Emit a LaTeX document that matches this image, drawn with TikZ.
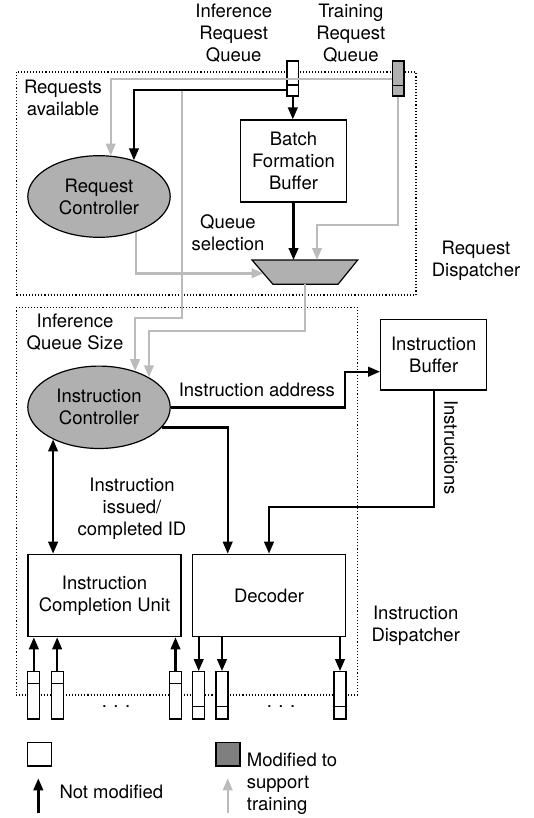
\documentclass[tikz,border=0pt]{standalone}
\usepackage{fontspec}
\setmainfont{TeX Gyre Heros}
\usetikzlibrary{arrows.meta,shapes.geometric}
\definecolor{lgray}{HTML}{BBBBBB}
\definecolor{fgray}{HTML}{B0B0B0}
\definecolor{dgray}{HTML}{7F7F7F}
\begin{document}
\begin{tikzpicture}[x=1pt,y=-1pt, font=\fontsize{18.5}{22}\selectfont,
  box/.style={draw, line width=1.2pt, fill=white, inner sep=0pt, align=center},
  ell/.style={ellipse, draw, line width=1.2pt, fill=fgray, inner sep=0pt, minimum width=142.4pt, align=center},
  qbox/.style={draw, line width=1.2pt, fill=white, minimum width=11.5pt, minimum height=35pt, inner sep=0pt},
  blk/.style={line width=2.4pt, -{Triangle[length=12pt,width=9.5pt]}},
  gry/.style={line width=2.4pt, lgray, -{Triangle[length=12pt,width=9.5pt]}},
  lbl/.style={align=center, inner sep=0pt},
  region/.style={dotted, line width=1.1pt},
  divline/.style={line width=1.2pt}]
\useasboundingbox (0,0) rectangle (534,818);

% regions
\draw[region] (16.3,72) rectangle (416,295);
\draw[region] (16.3,307.3) rectangle (357.3,695);

% labels
\node[lbl] (lInf) at (233.7,33) {Inference\\Request\\Queue};
\node[lbl] (lTrn) at (350.8,33) {Training\\Request\\Queue};
\node[lbl] (lReqAv) at (63,97.5) {Requests\\available};
\node[lbl] (lQsel) at (228,232.8) {Queue\\selection};
\node[lbl] (lRD) at (476,260.8) {Request\\Dispatcher};
\node[lbl] (lIQS) at (75,332) {Inference\\Queue Size};
\node[lbl] (lIA) at (256.8,390) {Instruction address};
\node[lbl, rotate=-90] (lIns) at (451,447.5) {Instructions};
\node[lbl] (lIssued) at (132,509) {Instruction\\issued/\\completed ID};
\node[lbl] (lID) at (415.7,625.3) {Instruction\\Dispatcher};

% main nodes
\node[box, minimum width=105.8pt, minimum height=82pt] (BFB) at (293.5,161) {Batch\\Formation\\Buffer};
\node[ell, minimum height=81.6pt] (RC) at (99,196.5) {Request\\Controller};
\node[ell, minimum height=82.4pt] (IC) at (99,407.3) {Instruction\\Controller};
\node[box, minimum width=106pt, minimum height=70.7pt] (IB) at (433.7,354.65) {Instruction\\Buffer};
\node[box, minimum width=153pt, minimum height=82.4pt] (ICU) at (104.5,595.5) {Instruction\\Completion Unit};
\node[box, minimum width=153.4pt, minimum height=82.4pt] (Dec) at (269,595.5) {Decoder};

% multiplexer
\coordinate (muxTL) at (252,260);
\coordinate (muxTR) at (357.7,260);
\coordinate (muxBR) at (338,284.3);
\coordinate (muxBL) at (273,284.3);
\draw[line width=1.2pt, fill=fgray] (muxTL) -- (muxTR) -- (muxBR) -- (muxBL) -- cycle;
\coordinate (muxL) at (263.5,273.3);
\coordinate (muxT1) at (293.5,260);
\coordinate (muxT2) at (317,260);
\coordinate (muxB) at (305,284.3);

% request queues
\node[qbox] (IQ) at (292.8,78.5) {};
\node[qbox, fill=fgray] (TQ) at (398.2,78.5) {};
\draw[divline] (IQ.west |- 0,85) -- (IQ.east |- 0,85);
\draw[divline] (TQ.west |- 0,85.7) -- (TQ.east |- 0,85.7);

% gray connectors
\coordinate (j1) at (181.7,90);
\draw[gry] (TQ.west |- 0,79.3) -| (RC.74.7);
\draw[gry] (TQ.south) -- (TQ.south |- 0,225) -| (muxT2);
\draw[gry] (RC.-44.4) |- (muxL);
\draw[gry] (j1) -- (181.7,318) -| (IC.45.4);
\draw[gry] (muxB) -- (305,331) -| (IC.31.6);

% black connectors
\draw[blk] (IQ.west |- 0,90) -| (RC.46.1);
\draw[blk] (IQ.south) -- (IQ.south |- BFB.north);
\draw[blk] (BFB.south) -- (muxT1);
\draw[blk] (IC.east) -| (345,371.7) -- (IB.west |- 0,371.7);
\draw[blk] (IB.south) -- (IB.south |- 0,506.7) -| (Dec.north);
\draw[blk] (IC.-18.2) -| (Dec.north -| 227.7,0);
\draw[line width=2.4pt, {Triangle[length=12pt,width=9.5pt]}-{Triangle[length=12pt,width=9.5pt]}] (IC.-145.3) -- (IC.-145.3 |- ICU.north);

% bottom queues
\node[qbox, minimum width=12pt, minimum height=47.3pt] (q1) at (33.85,695.35) {};
\node[qbox, minimum width=12pt, minimum height=47.3pt] (q2) at (57.15,695.35) {};
\node[qbox, minimum width=12pt, minimum height=47.3pt] (q3) at (175.5,695.35) {};
\node[qbox, minimum width=12pt, minimum height=47.3pt] (q4) at (198.7,695.35) {};
\node[qbox, minimum width=12pt, minimum height=47.3pt] (q5) at (222,695.35) {};
\node[qbox, minimum width=12pt, minimum height=47.3pt] (q6) at (340,695.35) {};
\foreach \q in {q1,q2,q3} {
  \draw[divline] (\q.west |- 0,683.3) -- (\q.east |- 0,683.3);
  \draw[blk] (\q.north) -- (\q.north |- ICU.south);
}
\foreach \q in {q4,q5,q6} {
  \draw[divline] (\q.west |- 0,706.7) -- (\q.east |- 0,706.7);
  \draw[blk] (Dec.south -| \q.north) -- (\q.north);
}
\node[lbl] (dots1) at (116,707) {.\hspace{6.5pt}.\hspace{6.5pt}.};
\node[lbl] (dots2) at (281,707) {.\hspace{6.5pt}.\hspace{6.5pt}.};

% legend
\node[draw, line width=1.2pt, fill=white, minimum width=24.4pt, minimum height=23.7pt, inner sep=0pt] (legW) at (39.5,754.2) {};
\node[draw, line width=1.2pt, fill=dgray, minimum width=24pt, minimum height=23.7pt, inner sep=0pt] (legG) at (228,754.2) {};
\coordinate (laB) at (38.3,813);
\coordinate (laT) at (38.3,778.3);
\coordinate (lgB) at (227.7,813);
\coordinate (lgT) at (227.7,778.3);
\draw[blk] (laB) -- (laT);
\draw[gry] (lgB) -- (lgT);
\node[lbl, anchor=west] (lNot) at (59.3,792) {Not modified};
\node[lbl, anchor=west, align=left] (lMod) at (246.7,784) {Modified to\\support\\training};
\end{tikzpicture}
\end{document}
